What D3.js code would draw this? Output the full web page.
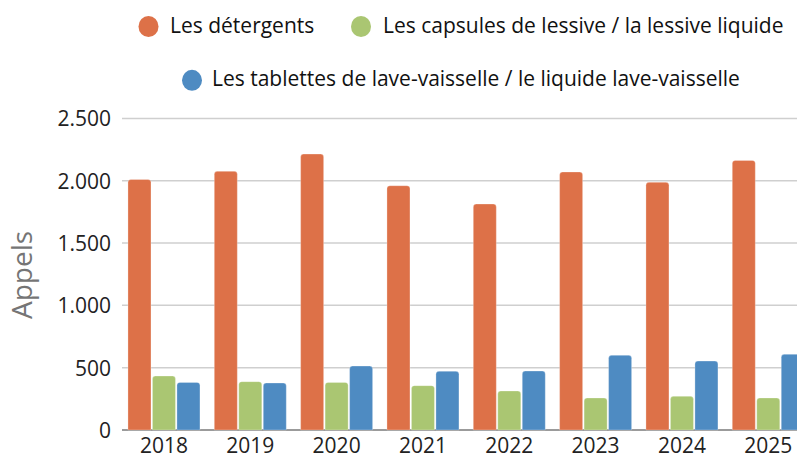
<!DOCTYPE html>
<html>
<head>
<meta charset="utf-8">
<script src="https://cdn.jsdelivr.net/npm/d3@7"></script>
<style>
  html, body { margin: 0; padding: 0; background: #fff; }
  svg { display: block; font-family: "Open Sans", "Noto Sans", sans-serif; }
</style>
</head>
<body>
<svg id="chart" width="797" height="458"></svg>
<script>
// ---- Data ----
const years = ["2018", "2019", "2020", "2021", "2022", "2023", "2024", "2025"];
const seriesNames = [
  "Les détergents",
  "Les capsules de lessive / la lessive liquide",
  "Les tablettes de lave-vaisselle / le liquide lave-vaisselle"
];
const detergents = [2010, 2075, 2214, 1960, 1813, 2070, 1987, 2163];
const capsules   = [433, 388, 382, 356, 313, 257, 270, 257];
const tablettes  = [382, 377, 513, 471, 473, 599, 553, 607];
const yTicks = [0, 500, 1000, 1500, 2000, 2500];
const yTitle = "Appels";
const colors = ["#DD7148", "#AAC672", "#4E8BC2"];

const seriesValues = [detergents, capsules, tablettes];
const table = years.map((yr, i) => ({
  year: yr,
  values: seriesNames.map((s, k) => ({ key: s, idx: k, value: seriesValues[k][i] }))
}));

// ---- Layout ----
const svg = d3.select("#chart");
const W = 797, H = 458;
const baseY = 430, topY = 118.4;
const step = 86.33;
const x0start = 120.8;

const x0 = d3.scaleBand().domain(years)
  .range([x0start, x0start + years.length * step])
  .paddingInner(0.166).paddingOuter(0.083);
const x1 = d3.scaleBand().domain(seriesNames)
  .range([0, x0.bandwidth()]).paddingInner(0.06).paddingOuter(0);
const y = d3.scaleLinear().domain([0, 2500]).range([baseY, topY]);
const color = d3.scaleOrdinal().domain(seriesNames).range(colors);

const loc = d3.formatLocale({ decimal: ",", thousands: ".", grouping: [3], currency: ["", " €"] });
const fmt = loc.format(",");

// gridlines
svg.append("g").selectAll("line").data(yTicks.filter(d => d > 0)).join("line")
  .attr("x1", 122).attr("x2", W)
  .attr("y1", d => y(d)).attr("y2", d => y(d))
  .attr("stroke", "#cfcfcf").attr("stroke-width", 1.5);

// baseline
svg.append("line")
  .attr("x1", 122).attr("x2", W).attr("y1", y(0)).attr("y2", y(0))
  .attr("stroke", "#7a7a7a").attr("stroke-width", 1.5);

// y axis labels
const yAxis = d3.axisLeft(y).tickValues(yTicks).tickFormat(fmt).tickSize(0).tickPadding(0);
const gy = svg.append("g").attr("transform", "translate(111,0)").call(yAxis);
gy.select(".domain").remove();
gy.selectAll("text")
  .attr("font-family", "'Open Sans', sans-serif")
  .attr("font-size", 21).attr("fill", "#222")
  .attr("dy", "0.36em");

// bars
function barPath(x, yTop, w, h, r) {
  r = Math.min(r, h, w / 2);
  return `M${x},${yTop + h}V${yTop + r}Q${x},${yTop} ${x + r},${yTop}H${x + w - r}Q${x + w},${yTop} ${x + w},${yTop + r}V${yTop + h}Z`;
}
const groups = svg.append("g").selectAll("g").data(table).join("g")
  .attr("transform", d => `translate(${x0(d.year)},0)`);
groups.selectAll("path").data(d => d.values).join("path")
  .attr("d", d => barPath(x1(d.key), y(d.value), x1.bandwidth(), y(0) - y(d.value), 3))
  .attr("fill", d => color(d.key))
  .attr("stroke", "rgba(255,255,255,0.35)").attr("stroke-width", 0.8);

// x axis labels
const xAxis = d3.axisBottom(x0).tickSize(0).tickPadding(0);
const gx = svg.append("g").attr("transform", `translate(0,${baseY})`).call(xAxis);
gx.select(".domain").remove();
gx.selectAll("text")
  .attr("font-family", "'Open Sans', sans-serif")
  .attr("font-size", 21).attr("fill", "#222")
  .attr("y", 0).attr("dy", 23);

// y title
svg.append("text")
  .attr("transform", "translate(32,275) rotate(-90)")
  .attr("text-anchor", "middle")
  .attr("font-size", 28).attr("fill", "#757575")
  .text(yTitle);

// legend
const legendPos = [
  { cx: 148.5, cy: 26.5, tx: 170, ty: 33 },
  { cx: 361, cy: 26.5, tx: 383, ty: 33 },
  { cx: 192, cy: 80.3, tx: 212, ty: 85.5 }
];
const lg = svg.append("g").selectAll("g").data(seriesNames).join("g");
lg.append("ellipse")
  .attr("cx", (d, i) => legendPos[i].cx).attr("cy", (d, i) => legendPos[i].cy)
  .attr("rx", 10).attr("ry", 10.5)
  .attr("fill", d => color(d));
lg.append("text")
  .attr("x", (d, i) => legendPos[i].tx).attr("y", (d, i) => legendPos[i].ty)
  .attr("font-size", 21).attr("fill", "#111")
  .text(d => d);
</script>
</body>
</html>
